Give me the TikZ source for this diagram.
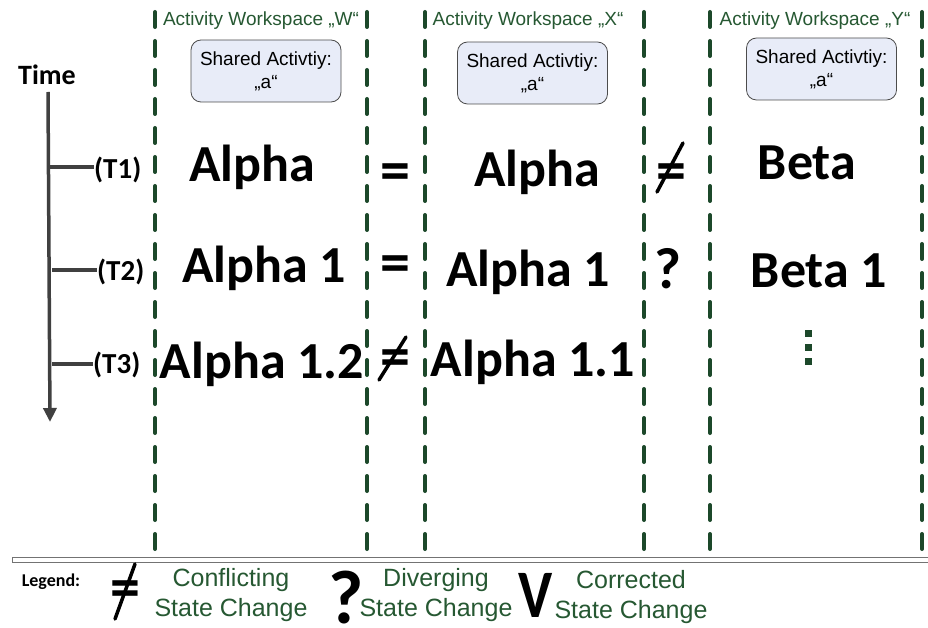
\documentclass[tikz,border=0pt]{standalone}
\usepackage{fontspec}
\setmainfont{Liberation Sans}
\newfontfamily\carlfont{Carlito}
\usetikzlibrary{arrows.meta}
\definecolor{dgreen}{RGB}{28,72,42}
\definecolor{tgreen}{RGB}{38,88,50}
\definecolor{axisgray}{RGB}{64,64,64}
\definecolor{boxfill}{RGB}{232,236,248}
\begin{document}
\begin{tikzpicture}[x=1pt,y=-1pt,
  sep/.style={draw=dgreen, line width=4pt, line cap=round, dash pattern=on 15pt off 14pt},
  big/.style={font=\carlfont\bfseries\fontsize{52}{60}\selectfont, inner sep=0pt, anchor=base},
  rel/.style={font=\carlfont\bfseries\fontsize{60}{70}\selectfont, inner sep=0pt, anchor=center, yshift=-8pt},
  slash/.style={draw=black, line width=3.5pt, line cap=round},
  axisline/.style={draw=axisgray, line width=3.5pt},
  tlab/.style={font=\carlfont\bfseries\fontsize{29}{32}\selectfont, inner sep=0pt, anchor=west},
  wslabel/.style={font=\fontsize{19}{22}\selectfont, text=tgreen, inner sep=0pt},
  shared/.style={draw=black!70, fill=boxfill, rounded corners=10pt, line width=0.8pt,
    minimum width=150pt, minimum height=62pt, inner sep=0pt, align=center,
    font=\fontsize{19}{23}\selectfont},
  legtext/.style={font=\fontsize{25}{30}\selectfont, text=tgreen, align=center, inner sep=0pt},
  dotsq/.style={fill=dgreen, minimum size=7pt, inner sep=0pt}
]
\useasboundingbox (0,0) rectangle (928,628);

% separators
\foreach \i/\x in {1/155,2/367,3/425,4/644,5/710,6/922}{
  \coordinate (s\i t) at (\x,12);
  \coordinate (s\i b) at (\x,549);
  \draw[sep] (s\i t) -- (s\i b);
}

% workspace labels
\node[wslabel] (wsW) at (261,21) {Activity Workspace „W“};
\node[wslabel] (wsX) at (528,21) {Activity Workspace „X“};
\node[wslabel] (wsY) at (815,21) {Activity Workspace „Y“};

% shared activity boxes
\node[shared] (shW) at (266,71) {Shared Activtiy:\\„a“};
\node[shared] (shX) at (532.5,73) {Shared Activtiy:\\„a“};
\node[shared] (shY) at (821.5,69) {Shared Activtiy:\\„a“};

% time axis
\node[font=\carlfont\bfseries\fontsize{28}{32}\selectfont, inner sep=0pt] (time) at (47,75) {Time};
\coordinate (ax0) at (48,92);
\coordinate (ax1) at (50,422);
\draw[axisline, -{Triangle[length=14pt,width=13pt]}] (ax0) -- (ax1);
\node[tlab] (t1) at (94,170) {(T1)};
\node[tlab] (t2) at (97,272) {(T2)};
\node[tlab] (t3) at (93,365) {(T3)};
\coordinate (k1) at (49,167);
\coordinate (k2) at (52,270);
\coordinate (k3) at (52,364);
\draw[axisline] (k1) -- (k1 -| t1.west);
\draw[axisline] (k2) -- (k2 -| t2.west);
\draw[axisline] (k3) -- (k3 -| t3.west);

% states
\node[big] (aW1) at (252,182) {Alpha};
\node[big] (aX1) at (537,187) {Alpha};
\node[big] (bY1) at (807,180) {Beta};
\node[big] (aW2) at (264,282) {Alpha 1};
\node[big] (aX2) at (528,286) {Alpha 1};
\node[big] (bY2) at (819,287) {Beta 1};
\node[big] (aW3) at (262,378) {Alpha 1.2};
\node[big] (aX3) at (533,376) {Alpha 1.1};
\node[dotsq] (d1) at (808.5,333.5) {};
\node[dotsq] (d2) at (808.5,347.5) {};
\node[dotsq] (d3) at (808.5,361.5) {};

% relations
\node[rel] (eq1) at (395,169.5) {=};
\node[rel] (eq2) at (395,261.5) {=};
\node[rel] (ne1) at (671.5,169.5) {=};
\coordinate (ne1a) at (657,192); \coordinate (ne1b) at (683,143);
\draw[slash] (ne1a) -- (ne1b);
\node[rel] (ne2) at (395,355) {=};
\coordinate (ne2a) at (379,380); \coordinate (ne2b) at (406,337);
\draw[slash] (ne2a) -- (ne2b);
\node[font=\carlfont\bfseries\fontsize{58}{66}\selectfont, inner sep=0pt] (q1) at (668,269) {?};

% legend
\draw[draw=black!55, line width=1pt, fill=white] (12,557) rectangle (935,562);
\node[font=\carlfont\bfseries\fontsize{18}{20}\selectfont, inner sep=0pt] (leg) at (51,582) {Legend:};
\node[rel] (lne) at (125.5,586.5) {=};
\coordinate (lnea) at (115,619); \coordinate (lneb) at (135,564);
\draw[slash] (lnea) -- (lneb);
\node[legtext] (lc) at (231,595) {Conflicting\\State Change};
\node[font=\carlfont\bfseries\fontsize{76}{80}\selectfont, inner sep=0pt] (lq) at (346,597.5) {?};
\node[legtext] (ld) at (436,595) {Diverging\\State Change};
\node[font=\carlfont\bfseries\fontsize{68}{72}\selectfont, inner sep=0pt, xscale=0.85] (lv) at (536,595) {V};
\node[legtext] (lr) at (631,597) {Corrected\\State Change};
\end{tikzpicture}
\end{document}
